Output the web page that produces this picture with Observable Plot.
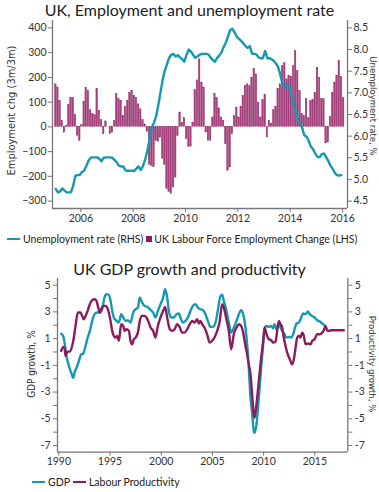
<!DOCTYPE html>
<html><head><meta charset="utf-8">
<script src="https://cdn.jsdelivr.net/npm/d3@7"></script>
<script src="https://cdn.jsdelivr.net/npm/@observablehq/plot@0.6"></script>
<style>
body{margin:0;background:#fff;}
#wrap{position:relative;width:379px;height:492px;overflow:hidden;font-family:Lato,"Open Sans",sans-serif;color:#222;}
.title{position:absolute;left:0;width:379px;text-align:center;font-size:16px;line-height:18px;white-space:nowrap;}
.legend{position:absolute;font-size:10.5px;display:flex;align-items:center;white-space:nowrap;color:#222;line-height:12px;}
.swl{display:inline-block;width:13px;height:2.5px;margin-right:3px;}
.sws{display:inline-block;width:6px;height:6px;margin:0 2px 0 3px;}
#wrap svg{position:absolute;left:0;}
</style></head>
<body><div id="wrap"></div>
<script>
// ---------- Data: top chart ----------
const monthStart = [2005, 0]; // Jan 2005, monthly
const empChange = [172,159,105,24,-23,5,89,118,116,48,-36,-56,8,102,156,145,67,51,47,152,65,27,-30,22,0,-30,-24,24,132,112,105,44,81,105,138,145,125,118,91,71,27,10,-20,
-153,-158,-163,-57,-60,-43,-130,-153,-250,-264,-271,-245,-205,-36,58,17,35,-50,-80,-80,17,148,188,273,179,159,-23,-56,-56,38,134,116,75,38,24,-70,-177,-164,-30,44,78,38,81,125,165,
172,165,199,233,212,98,38,108,129,-43,24,13,67,81,152,172,246,257,192,206,202,246,306,226,145,51,44,112,35,105,108,138,239,199,112,112,-67,-63,40,138,179,206,266,202,116];
const unemploymentRate = [4.78,4.70,4.72,4.79,4.75,4.70,4.70,4.70,4.85,5.08,5.10,5.10,5.17,5.20,5.30,5.42,5.50,5.51,5.51,5.51,5.48,5.42,5.50,5.51,5.51,5.51,5.50,5.45,5.40,5.32,5.30,5.30,5.21,5.20,5.20,5.20,5.20,5.25,5.30,5.22,5.30,5.45,5.65,5.90,6.20,6.30,6.45,6.70,7.00,7.30,7.50,7.65,7.80,7.88,7.90,7.84,7.87,7.82,7.78,7.72,7.88,8.00,7.96,7.88,7.81,7.84,7.88,7.90,7.90,7.90,7.89,7.82,7.76,7.72,7.80,7.86,7.93,8.05,8.15,8.30,8.45,8.48,8.40,8.30,8.25,8.20,8.15,8.08,8.04,8.08,7.91,7.90,7.89,7.82,7.80,7.80,7.97,7.80,7.80,7.78,7.74,7.68,7.60,7.42,7.20,7.12,7.20,7.17,6.95,6.75,6.58,6.40,6.30,6.20,6.02,5.99,5.90,5.76,5.70,5.60,5.52,5.51,5.58,5.60,5.52,5.43,5.32,5.25,5.15,5.10,5.09,5.10];
const lhsTicks = [-300,-200,-100,0,100,200,300,400];
const rhsTicks = [4.5,5.0,5.5,6.0,6.5,7.0,7.5,8.0,8.5];
const topYearTicks = [2006,2008,2010,2012,2014,2016];

// ---------- Data: bottom chart ----------
const gdpYears = [1990.23,1990.43,1990.56,1990.75,1990.98,1991.21,1991.40,1991.53,1991.73,1991.96,1992.18,1992.38,1992.61,1992.77,1993.03,1993.26,1993.49,1993.75,1994.00,1994.23,1994.46,1994.66,1994.88,1995.05,1995.21,1995.37,1995.64,1995.86,1996.09,1996.29,1996.51,1996.74,1997.00,1997.26,1997.49,1997.72,1997.91,1998.14,1998.37,1998.63,1998.89,1999.21,1999.44,1999.67,1999.93,2000.19,2000.38,2000.58,2000.77,2000.97,2001.23,2001.49,2001.72,2001.88,2002.11,2002.37,2002.60,2002.86,2003.09,2003.35,2003.57,2003.83,2004.09,2004.32,2004.55,2004.81,2005.04,2005.30,2005.52,2005.79,2005.95,2006.11,2006.37,2006.60,2006.83,2007.09,2007.35,2007.58,2007.80,2008.00,2008.23,2008.39,2008.55,2008.72,2008.88,2009.04,2009.11,2009.30,2009.53,2009.76,2009.96,2010.09,2010.28,2010.51,2010.74,2010.93,2011.06,2011.26,2011.49,2011.65,2011.81,2012.04,2012.24,2012.46,2012.69,2012.89,2013.02,2013.21,2013.44,2013.67,2013.86,2014.09,2014.32,2014.51,2014.74,2014.97,2015.23,2015.49,2015.72,2015.88];
const gdpGrowth = [1.37,1.20,0.70,-0.30,-1.05,-1.55,-1.93,-1.55,-1.18,-0.68,-0.18,-0.12,0.45,0.95,1.58,2.33,2.83,2.95,2.95,3.20,4.08,4.33,4.28,3.83,3.08,2.58,2.33,2.20,2.83,2.58,2.33,2.38,2.20,2.95,3.20,3.33,4.08,3.70,3.45,3.38,3.20,2.95,2.58,3.08,3.58,4.08,4.70,4.08,2.95,2.58,2.58,2.83,2.88,2.58,2.20,2.33,2.58,3.08,3.45,3.58,3.33,3.20,3.13,2.83,2.33,1.88,1.88,2.20,3.08,4.20,4.28,3.83,3.08,2.20,1.45,1.83,2.33,2.83,3.13,2.83,1.83,0.58,-1.18,-3.43,-4.60,-5.93,-6.05,-5.43,-3.43,-1.18,0.58,1.70,1.95,1.88,1.95,1.78,2.08,1.70,2.08,1.83,1.58,1.33,1.08,1.13,1.08,1.33,1.70,2.13,2.20,2.58,2.88,2.83,3.03,2.83,2.70,2.58,2.38,2.28,2.13,2.03];
const prodYears = [1990.23,1990.43,1990.56,1990.66,1990.82,1991.08,1991.30,1991.47,1991.63,1991.86,1992.12,1992.28,1992.44,1992.61,1992.84,1993.03,1993.26,1993.49,1993.68,1993.81,1994.00,1994.14,1994.33,1994.56,1994.72,1994.88,1995.05,1995.21,1995.37,1995.54,1995.70,1995.86,1996.09,1996.29,1996.42,1996.61,1996.84,1997.00,1997.16,1997.33,1997.49,1997.72,1997.91,1998.14,1998.37,1998.56,1998.79,1998.96,1999.21,1999.44,1999.67,1999.93,2000.19,2000.38,2000.58,2000.84,2001.07,2001.30,2001.56,2001.82,2002.04,2002.27,2002.53,2002.79,2003.02,2003.25,2003.51,2003.67,2003.83,2004.00,2004.22,2004.48,2004.74,2004.97,2005.20,2005.46,2005.69,2005.95,2006.11,2006.37,2006.60,2006.83,2007.09,2007.35,2007.58,2007.80,2008.00,2008.23,2008.39,2008.55,2008.72,2008.88,2009.04,2009.11,2009.30,2009.53,2009.76,2009.96,2010.09,2010.28,2010.51,2010.74,2010.93,2011.16,2011.32,2011.49,2011.65,2011.81,2011.97,2012.14,2012.30,2012.56,2012.79,2012.95,2013.12,2013.28,2013.44,2013.60,2013.77,2013.93,2014.09,2014.32,2014.58,2014.74,2014.97,2015.23,2015.49,2015.72,2015.88,2016.04,2016.20,2016.37,2016.59,2016.85,2017.10,2017.40,2017.83];
const prodGrowth = [0.08,0.38,0.28,-0.30,0.03,0.03,0.45,1.08,1.95,2.95,2.95,2.70,2.45,2.70,3.13,3.58,3.88,3.95,3.83,3.45,2.95,3.20,3.45,3.45,3.33,2.95,2.33,1.58,1.20,1.08,1.20,0.83,2.08,1.95,1.58,1.70,1.58,0.83,0.58,0.95,1.08,1.45,2.33,2.70,2.70,2.58,2.20,1.83,1.58,1.08,1.95,2.58,3.08,3.38,2.58,1.70,1.58,1.70,2.08,1.83,1.45,1.45,1.70,2.08,2.33,2.20,2.45,2.13,2.33,2.08,1.83,1.33,0.70,0.83,1.08,1.58,2.20,3.58,3.33,2.45,1.58,0.20,1.33,1.83,2.08,1.95,1.45,0.45,-0.18,-0.93,-1.70,-3.20,-4.68,-4.93,-3.93,-2.18,-0.43,0.83,1.83,1.33,0.95,0.88,0.70,0.78,1.58,2.33,2.08,1.83,1.08,0.45,-0.05,-0.55,-0.93,-0.55,0.33,1.08,1.20,1.08,1.45,1.20,0.58,0.63,0.58,0.83,0.95,1.33,1.33,1.45,1.63,1.95,1.63,1.58,1.63,1.63,1.63,1.63,1.63];
const bottomYearTicks = [1990,1995,2000,2005,2010,2015];
const bottomYTicks = [-7,-6,-5,-4,-3,-2,-1,0,1,2,3,4,5];

// ---------- Style ----------
const teal = "#1399b2", purple = "#8c1b5e", barFill = "#a8447f", axisCol = "#777", textCol = "#333";
const FONT = "Lato, 'Open Sans', sans-serif";
const narrow = "'Liberation Sans Narrow', 'DejaVu Sans Condensed', 'Noto Sans', sans-serif";

// dual-axis mapping (RHS unemployment -> LHS employment change units)
const rhsToLhs = u => (u - 6.2143) * 175;
const lhsToRhs = v => 6.2143 + v / 175;

const wrap = document.getElementById("wrap");

// ---------- Top chart ----------
const bars = empChange.map((v, i) => ({
  x1: new Date(Date.UTC(monthStart[0], monthStart[1] + i, 1)),
  x2: new Date(Date.UTC(monthStart[0], monthStart[1] + i + 1, 1)), v}));
const unemp = unemploymentRate.map((u, i) => ({date: new Date(Date.UTC(monthStart[0], monthStart[1] + i, 15)), u}));
const xd0 = new Date(Date.UTC(2004, 11, 1)), xd1 = new Date(Date.UTC(2016, 2, 10));
const yd = [-330, 430];

const tickStyle = {fontFamily: FONT, fontSize: 10.5, fill: textCol, letterSpacing: "-0.3px"};

const c1 = Plot.plot({
  width: 379, height: 230, marginTop: 20, marginBottom: 22, marginLeft: 52, marginRight: 32,
  style: {fontFamily: FONT, background: "transparent", overflow: "visible"},
  x: {type: "utc", domain: [xd0, xd1]},
  y: {domain: yd},
  marks: [
    Plot.rectY(bars, {x1: "x1", x2: "x2", y: "v", fill: barFill, stroke: purple, strokeWidth: 0.4, insetLeft: 0.35, insetRight: 0.35}),
    Plot.line(unemp, {x: "date", y: d => rhsToLhs(d.u), stroke: teal, strokeWidth: 2.4, strokeLinejoin: "round"}),
    Plot.ruleX([xd0, xd1], {stroke: axisCol, strokeWidth: 1.3}),
    Plot.ruleY([yd[0]], {stroke: axisCol, strokeWidth: 1.3}),
    Plot.axisX({ticks: topYearTicks.map(y => new Date(Date.UTC(y, 0, 1))), tickFormat: d => String(d.getUTCFullYear()),
      tickSize: 4, tickPadding: 2, stroke: axisCol, ...tickStyle, label: null}),
    Plot.axisY({anchor: "left", ticks: lhsTicks, tickSize: 4, tickPadding: 2, stroke: axisCol, ...tickStyle, label: null}),
    Plot.axisY({anchor: "right", ticks: rhsTicks.map(rhsToLhs), tickFormat: d => lhsToRhs(d).toFixed(1),
      tickSize: 4, tickPadding: 2, stroke: axisCol, ...tickStyle, label: null})
  ]
});
c1.style.top = "0px";
wrap.appendChild(c1);
const s1 = d3.select(c1);
s1.append("text").attr("transform", "translate(11.5,110.5) rotate(-90)").attr("text-anchor", "middle")
  .attr("dominant-baseline", "central").style("font-family", narrow).style("font-size", "11px").attr("fill", textCol)
  .text("Employment chg (3m/3m)");
s1.append("text").attr("transform", "translate(373,106) rotate(90)").attr("text-anchor", "middle")
  .attr("dominant-baseline", "central").style("font-family", narrow).style("font-size", "9.5px").attr("fill", textCol)
  .text("Unemployment rate, %");

// ---------- Bottom chart ----------
const gdp = gdpYears.map((t, i) => ({t, v: gdpGrowth[i]}));
const prod = prodYears.map((t, i) => ({t, v: prodGrowth[i]}));
const bx = [1989.87, 2018.22], by = [-7.5, 5.5];
const oddLabel = d => (Math.abs(d) % 2 === 1 ? String(d) : "");

const c2 = Plot.plot({
  width: 379, height: 214, marginTop: 20, marginBottom: 20.3, marginLeft: 57, marginRight: 31.7,
  style: {fontFamily: FONT, background: "transparent", overflow: "visible"},
  x: {domain: bx},
  y: {domain: by},
  marks: [
    Plot.line(gdp, {x: "t", y: "v", stroke: teal, strokeWidth: 2.4, strokeLinejoin: "round", curve: "monotone-x"}),
    Plot.line(prod, {x: "t", y: "v", stroke: purple, strokeWidth: 2.4, strokeLinejoin: "round", curve: "monotone-x"}),
    Plot.ruleX([bx[0], bx[1]], {stroke: axisCol, strokeWidth: 1.3}),
    Plot.ruleY([by[0]], {stroke: axisCol, strokeWidth: 1.3}),
    Plot.axisX({ticks: bottomYearTicks, tickFormat: d => String(d), tickSize: 4, tickPadding: 1, stroke: axisCol, ...tickStyle, label: null}),
    Plot.axisY({anchor: "left", ticks: bottomYTicks, tickFormat: oddLabel, tickSize: 4, tickPadding: 3, stroke: axisCol, ...tickStyle, label: null}),
    Plot.axisY({anchor: "right", ticks: bottomYTicks, tickFormat: oddLabel, tickSize: 4, tickPadding: 3, stroke: axisCol, ...tickStyle, label: null})
  ]
});
c2.style.top = "258px";
wrap.appendChild(c2);
const s2 = d3.select(c2);
s2.append("text").attr("transform", "translate(31,106) rotate(-90)").attr("text-anchor", "middle")
  .attr("dominant-baseline", "central").style("font-family", narrow).style("font-size", "10px").attr("fill", textCol)
  .text("GDP growth, %");
s2.append("text").attr("transform", "translate(372,106) rotate(90)").attr("text-anchor", "middle")
  .attr("dominant-baseline", "central").style("font-family", narrow).style("font-size", "9.5px").attr("fill", textCol)
  .text("Productivity growth, %");

// ---------- Titles & legends ----------
function addTitle(text, top) {
  const d = document.createElement("div"); d.className = "title"; d.textContent = text; d.style.top = top + "px"; wrap.appendChild(d);
}
addTitle("UK, Employment and unemployment rate", 1);
addTitle("UK GDP growth and productivity", 260);

function addLegend(items, left, top) {
  const d = document.createElement("div"); d.className = "legend"; d.style.left = left + "px"; d.style.top = top + "px";
  items.forEach((it, k) => {
    const s = document.createElement("span"); s.className = it.type === "line" ? "swl" : "sws"; s.style.background = it.color;
    if (k > 0 && it.type === "line") s.style.marginLeft = "3px";
    d.appendChild(s);
    const t = document.createElement("span"); t.textContent = it.label; d.appendChild(t);
  });
  wrap.appendChild(d);
}
addLegend([{type: "line", color: teal, label: "Unemployment rate (RHS)"}, {type: "sq", color: purple, label: "UK Labour Force Employment Change (LHS)"}], 7, 233);
addLegend([{type: "line", color: teal, label: "GDP"}, {type: "line", color: purple, label: "Labour Productivity"}], 32, 476);
</script>
</body></html>
